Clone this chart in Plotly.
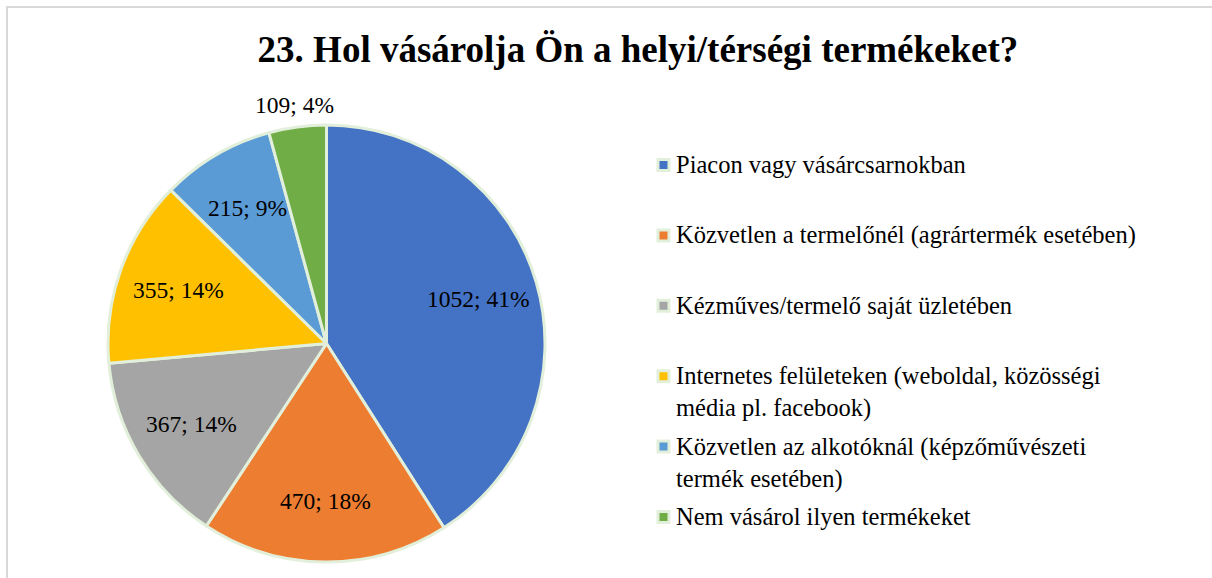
import math
import plotly.graph_objects as go

# Survey answers: where respondents buy local/regional products
categories = [
    "Piacon vagy vásárcsarnokban",
    "Közvetlen a termelőnél (agrártermék esetében)",
    "Kézműves/termelő saját üzletében",
    "Internetes felületeken (weboldal, közösségi<br>média pl. facebook)",
    "Közvetlen az alkotóknál (képzőművészeti<br>termék esetében)",
    "Nem vásárol ilyen termékeket",
]
counts = [1052, 470, 367, 355, 215, 109]
pct_labels = ["41%", "18%", "14%", "14%", "9%", "4%"]

colors = ["#4472C4", "#ED7D31", "#A5A5A5", "#FFC000", "#5B9BD5", "#70AD47"]
edge = "#E2EFDA"
serif = "Liberation Serif, Times New Roman, serif"

W, H = 1212, 578

# pie geometry in pixels
cx, cy, rad = 326.5, 343.5, 218.5

fig = go.Figure()
fig.add_trace(go.Pie(
    labels=categories,
    values=counts,
    textinfo="none",
    sort=False,
    direction="clockwise",
    rotation=0,
    marker=dict(colors=colors, line=dict(color=edge, width=3)),
    domain=dict(x=[(cx - rad) / W, (cx + rad) / W],
                y=[1 - (cy + rad) / H, 1 - (cy - rad) / H]),
    showlegend=False,
    hoverinfo="label+value+percent",
))

shapes = [
    # chart frame
    dict(type="rect", xref="paper", yref="paper",
         x0=7 / W, x1=1.05, y0=-0.05, y1=1 - 7 / H,
         line=dict(color="#D9D9D9", width=2), fillcolor="rgba(0,0,0,0)", layer="below"),
]
annotations = []

# data labels "count; percent" placed along each slice's middle angle
total = sum(counts)
cum = 0
for i, (c, p) in enumerate(zip(counts, pct_labels)):
    mid = (cum + c / 2) / total * 2 * math.pi
    cum += c
    frac = 1.10 if i == len(counts) - 1 else 0.72  # smallest slice labelled outside
    lx = cx + rad * frac * math.sin(mid)
    ly = cy - rad * frac * math.cos(mid)
    annotations.append(dict(
        x=lx / W, y=1 - ly / H, xref="paper", yref="paper",
        xanchor="center", yanchor="middle", showarrow=False,
        text=f"{c}; {p}", font=dict(family=serif, size=23.5, color="#000000"),
    ))

# legend entries: square swatch + label, stacked from the top
legend_top = 165
legend_step = 70.4
sq = 11
for i, (name, col) in enumerate(zip(categories, colors)):
    yc = legend_top + i * legend_step
    shapes.append(dict(
        type="rect", xref="paper", yref="paper",
        x0=(663.5 - sq / 2) / W, x1=(663.5 + sq / 2) / W,
        y0=1 - (yc + sq / 2) / H, y1=1 - (yc - sq / 2) / H,
        fillcolor=col, line=dict(color=edge, width=3),
    ))
    annotations.append(dict(
        x=674 / W, y=1 - (yc - 16) / H, xref="paper", yref="paper",
        xanchor="left", yanchor="top", align="left", showarrow=False,
        text=name, font=dict(family=serif, size=24.5, color="#000000"),
    ))

fig.update_layout(
    width=W, height=H,
    margin=dict(l=0, r=0, t=0, b=0),
    paper_bgcolor="#FFFFFF",
    plot_bgcolor="#FFFFFF",
    title=dict(
        text="<b>23. Hol vásárolja Ön a helyi/térségi termékeket?</b>",
        x=638 / W, xanchor="center", y=1 - 49 / H, yanchor="middle",
        font=dict(family=serif, size=37, color="#000000"),
    ),
    shapes=shapes,
    annotations=annotations,
)

fig.write_html("out.html")
